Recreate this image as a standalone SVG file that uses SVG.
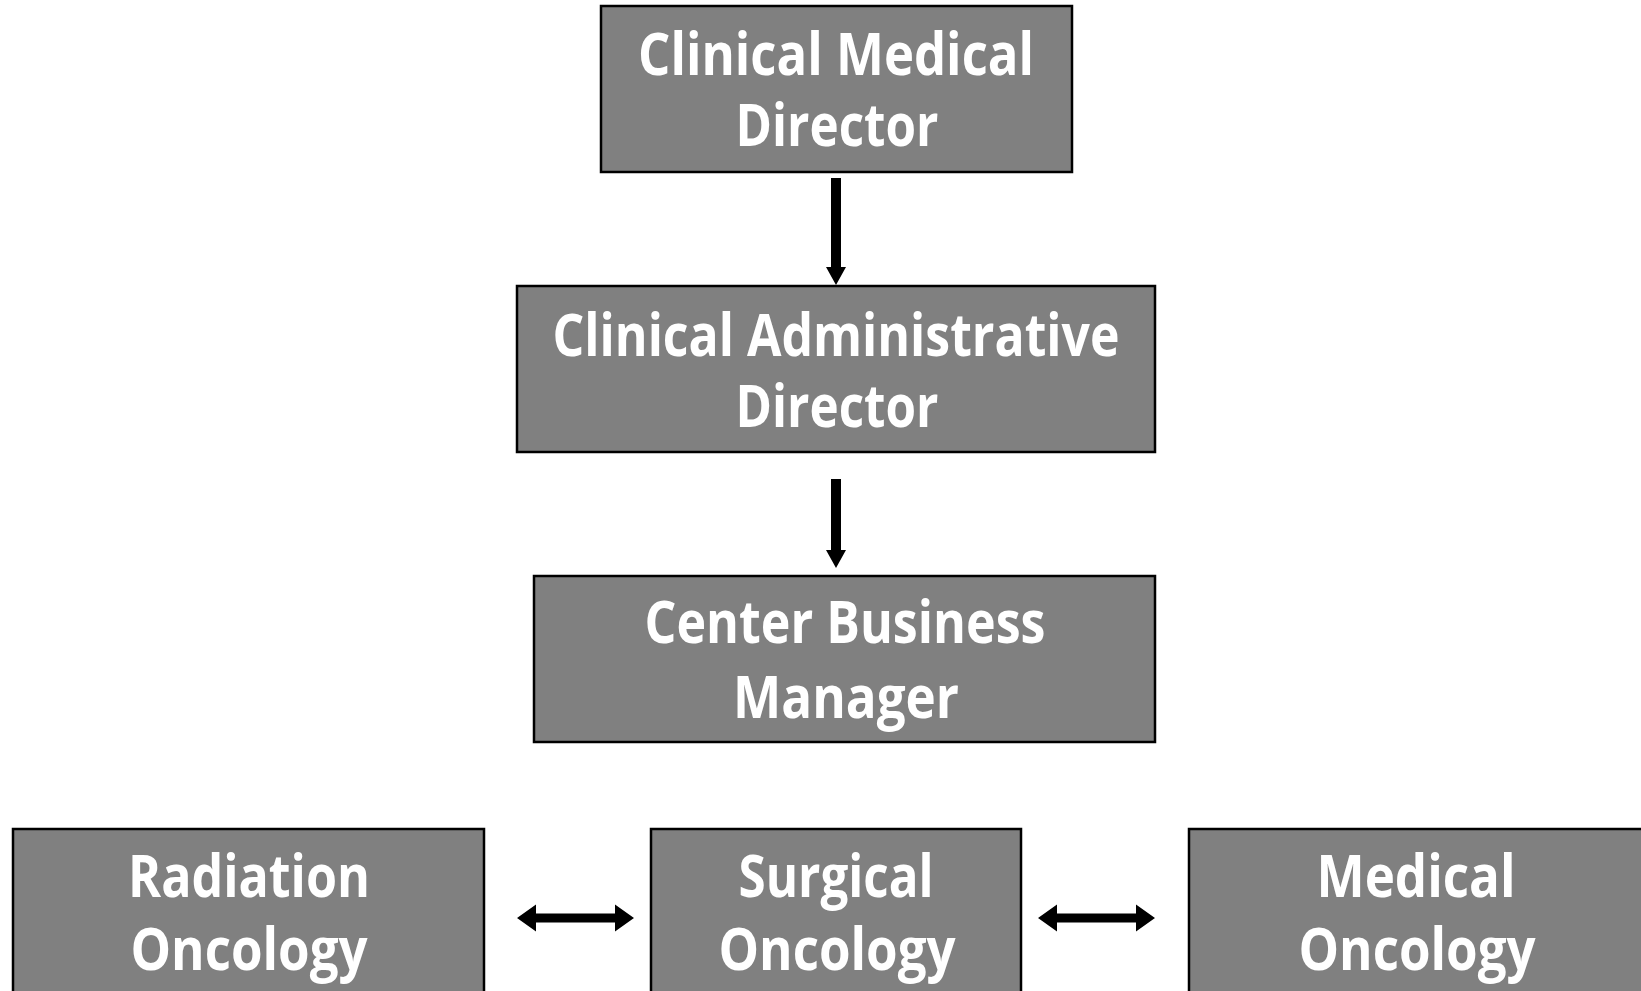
<svg xmlns="http://www.w3.org/2000/svg" width="1641" height="991" viewBox="0 0 1641 991">
<style>
.box{fill:#808080;stroke:#000;stroke-width:2.5}
.t{font-family:"Open Sans","Noto Sans","Liberation Sans",sans-serif;font-weight:bold;font-size:59px;fill:#fff;text-anchor:middle}
.ar{fill:#000}
</style>
<rect width="1641" height="991" fill="#fff"/>
<g id="connectors">
<path class="ar" d="M831,178 H841 V267 H846 L836,285 L826,267 H831 Z"/>
<path class="ar" d="M831,479 H841 V550 H846 L836,568 L826,550 H831 Z"/>
<path class="ar" d="M517,918 L536,904.5 V913.5 H615 V904.5 L634,918 L615,931.5 V922.5 H536 V931.5 Z"/>
<path class="ar" d="M1038,918 L1057,904.5 V913.5 H1136 V904.5 L1155,918 L1136,931.5 V922.5 H1057 V931.5 Z"/>
</g>
<g id="clinical-medical-director">
<rect class="box" x="601" y="6" width="471" height="166"/>
<text class="t" x="836" y="75" textLength="396" lengthAdjust="spacingAndGlyphs">Clinical Medical</text>
<text class="t" x="837" y="146" textLength="203" lengthAdjust="spacingAndGlyphs">Director</text>
</g>
<g id="clinical-administrative-director">
<rect class="box" x="517" y="286" width="638" height="166"/>
<text class="t" x="836" y="356" textLength="567" lengthAdjust="spacingAndGlyphs">Clinical Administrative</text>
<text class="t" x="837" y="427" textLength="203" lengthAdjust="spacingAndGlyphs">Director</text>
</g>
<g id="center-business-manager">
<rect class="box" x="534" y="576" width="621" height="166"/>
<text class="t" x="845" y="643" textLength="401" lengthAdjust="spacingAndGlyphs">Center Business</text>
<text class="t" x="846" y="718" textLength="226" lengthAdjust="spacingAndGlyphs">Manager</text>
</g>
<g id="radiation-oncology">
<rect class="box" x="13" y="829" width="471" height="180"/>
<text class="t" x="249" y="897" textLength="242" lengthAdjust="spacingAndGlyphs">Radiation</text>
<text class="t" x="249" y="970" textLength="237" lengthAdjust="spacingAndGlyphs">Oncology</text>
</g>
<g id="surgical-oncology">
<rect class="box" x="651" y="829" width="370" height="180"/>
<text class="t" x="836" y="897" textLength="195" lengthAdjust="spacingAndGlyphs">Surgical</text>
<text class="t" x="837" y="970" textLength="237" lengthAdjust="spacingAndGlyphs">Oncology</text>
</g>
<g id="medical-oncology">
<rect class="box" x="1189" y="829" width="470" height="180"/>
<text class="t" x="1416" y="897" textLength="199" lengthAdjust="spacingAndGlyphs">Medical</text>
<text class="t" x="1417" y="970" textLength="237" lengthAdjust="spacingAndGlyphs">Oncology</text>
</g>
</svg>
